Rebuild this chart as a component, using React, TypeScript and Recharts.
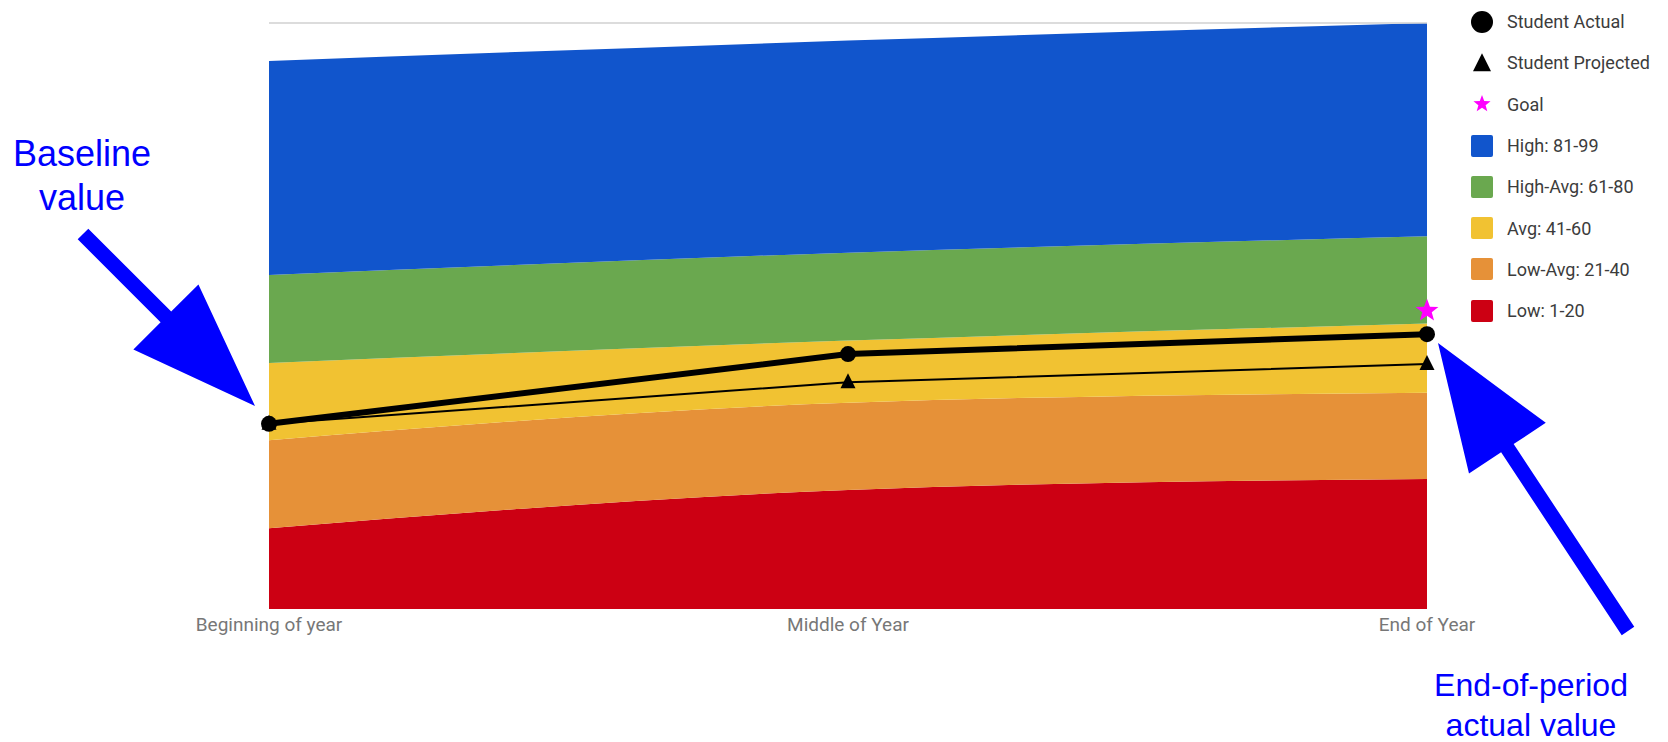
import React from "react";
import {
  ComposedChart,
  Area,
  Line,
  XAxis,
  YAxis,
  ReferenceLine,
  Legend,
} from "recharts";

// periods on the x axis
const periods = ["Beginning of year", "Middle of Year", "End of Year"];

// percentile band thicknesses (stacked, bottom to top)
const low = [13.8, 20.3, 22.2];
const lowAvg = [15.0, 14.9, 14.7];
const avg = [13.2, 10.6, 11.8];
const highAvg = [15.0, 15.0, 14.9];
const high = [36.5, 36.2, 36.4];

// student scores
const studentActual = [31.6, 43.5, 46.9];
const studentProjected = [31.6, 38.7, 41.8];
const goal = [null, null, 50.9];

// bands in legend order (top first)
const bands = [
  { key: "high", name: "High: 81-99", color: "#1155cc", values: high },
  { key: "highAvg", name: "High-Avg: 61-80", color: "#6aa84f", values: highAvg },
  { key: "avg", name: "Avg: 41-60", color: "#f1c232", values: avg },
  { key: "lowAvg", name: "Low-Avg: 21-40", color: "#e69138", values: lowAvg },
  { key: "low", name: "Low: 1-20", color: "#cc0013", values: low },
];

const data = periods.map((period, i) => {
  const row: any = {
    period,
    actual: studentActual[i],
    projected: studentProjected[i],
    goal: goal[i],
  };
  bands.forEach((b) => (row[b.key] = b.values[i]));
  return row;
});

const W = 1668;
const H = 742;
const annoFont = "'Liberation Sans', Arial, sans-serif";
const uiFont = "Roboto, 'Noto Sans', sans-serif";

const starPoints = (cx: number, cy: number, outer: number, inner: number) => {
  const pts: string[] = [];
  for (let i = 0; i < 10; i++) {
    const r = i % 2 === 0 ? outer : inner;
    const a = -Math.PI / 2 + (i * Math.PI) / 5;
    pts.push(`${cx + r * Math.cos(a)},${cy + r * Math.sin(a)}`);
  }
  return pts.join(" ");
};

const triPoints = (cx: number, cy: number, s: number) =>
  `${cx},${cy - s * 0.6} ${cx + s / 2},${cy + s * 0.4} ${cx - s / 2},${cy + s * 0.4}`;

// block arrow polygon from tail to tip
const arrowPoints = (tx: number, ty: number, hx: number, hy: number) => {
  const shaft = 15;
  const headW = 92;
  const headL = 126;
  const dx = hx - tx;
  const dy = hy - ty;
  const len = Math.sqrt(dx * dx + dy * dy);
  const ux = dx / len;
  const uy = dy / len;
  const px = -uy;
  const py = ux;
  const bx = hx - ux * headL;
  const by = hy - uy * headL;
  const p = [
    [tx + px * shaft / 2, ty + py * shaft / 2],
    [bx + px * shaft / 2, by + py * shaft / 2],
    [bx + px * headW / 2, by + py * headW / 2],
    [hx, hy],
    [bx - px * headW / 2, by - py * headW / 2],
    [bx - px * shaft / 2, by - py * shaft / 2],
    [tx - px * shaft / 2, ty - py * shaft / 2],
  ];
  return p.map((q) => q.join(",")).join(" ");
};

const ActualDot = (props: any) => {
  const { cx, cy, index } = props;
  if (cx == null || cy == null) return <g key={`a-${index}`} />;
  return <circle key={`a-${index}`} cx={cx} cy={cy} r={8} fill="#000" />;
};

const ProjectedDot = (props: any) => {
  const { cx, cy, index } = props;
  if (cx == null || cy == null) return <g key={`p-${index}`} />;
  return <polygon key={`p-${index}`} points={triPoints(cx, cy, 15)} fill="#000" />;
};

const GoalDot = (props: any) => {
  const { cx, cy, index, value } = props;
  if (cx == null || cy == null || value == null) return <g key={`g-${index}`} />;
  return <polygon key={`g-${index}`} points={starPoints(cx, cy, 12, 5)} fill="#ff00ff" />;
};

const legendItems = [
  { name: "Student Actual", marker: "circle", color: "#000" },
  { name: "Student Projected", marker: "triangle", color: "#000" },
  { name: "Goal", marker: "star", color: "#ff00ff" },
  ...bands.map((b) => ({ name: b.name, marker: "square", color: b.color })),
];

const LegendContent = () => (
  <div style={{ fontFamily: uiFont, fontSize: 18, color: "#3c3c3c", width: 200 }}>
    {legendItems.map((it) => (
      <div
        key={it.name}
        style={{ display: "flex", alignItems: "center", height: 41.3, whiteSpace: "nowrap" }}
      >
        <svg width={24} height={24} style={{ marginRight: 13, flexShrink: 0, display: "block" }}>
          {it.marker === "circle" && <circle cx={12} cy={12} r={11} fill={it.color} />}
          {it.marker === "triangle" && (
            <polygon points={triPoints(12, 13, 18)} fill={it.color} />
          )}
          {it.marker === "star" && (
            <polygon points={starPoints(12, 12, 9, 3.8)} fill={it.color} />
          )}
          {it.marker === "square" && (
            <rect x={1} y={1} width={22} height={22} rx={2} fill={it.color} />
          )}
        </svg>
        <span>{it.name}</span>
      </div>
    ))}
  </div>
);

export default function App() {
  return (
    <div style={{ position: "absolute", left: 0, top: 0, width: W, height: H, background: "#fff" }}>
      <ComposedChart
        width={W}
        height={H}
        data={data}
        margin={{ top: 23, right: 241, bottom: 103, left: 269 }}
      >
        <XAxis
          dataKey="period"
          scale="point"
          padding={{ left: 0, right: 0 }}
          axisLine={false}
          tickLine={false}
          interval={0}
          height={30}
          tickMargin={3}
          tick={{ fill: "#777", fontSize: 19, fontFamily: uiFont }}
        />
        <YAxis hide domain={[0, 100]} />
        {[...bands].reverse().map((b) => (
          <Area
            key={b.key}
            dataKey={b.key}
            name={b.name}
            stackId="bands"
            type="monotone"
            stroke="none"
            fill={b.color}
            fillOpacity={1}
            isAnimationActive={false}
          />
        ))}
        <ReferenceLine y={100} stroke="#d0d0d0" strokeWidth={1.5} />
        <Line
          dataKey="projected"
          name="Student Projected"
          type="linear"
          stroke="#000"
          strokeWidth={2}
          dot={ProjectedDot}
          activeDot={false}
          isAnimationActive={false}
        />
        <Line
          dataKey="actual"
          name="Student Actual"
          type="linear"
          stroke="#000"
          strokeWidth={6}
          dot={ActualDot}
          activeDot={false}
          isAnimationActive={false}
        />
        <Line
          dataKey="goal"
          name="Goal"
          stroke="none"
          dot={GoalDot}
          activeDot={false}
          isAnimationActive={false}
        />
        <Legend
          content={LegendContent}
          wrapperStyle={{ position: "absolute", left: 1470, top: 1, width: 0, height: 0, overflow: "visible" }}
        />
      </ComposedChart>
      <svg
        width={W}
        height={H}
        style={{ position: "absolute", left: 0, top: 0, pointerEvents: "none" }}
      >
        <polygon points={arrowPoints(83, 234, 255, 406)} fill="#0000ff" />
        <polygon points={arrowPoints(1628, 631, 1438, 343)} fill="#0000ff" />
        <g fontFamily={annoFont} fontSize={36} fill="#0000ff" textAnchor="middle">
          <text x={82} y={166}>Baseline</text>
          <text x={82} y={210}>value</text>
        </g>
        <g fontFamily={annoFont} fontSize={32} fill="#0000ff" textAnchor="middle">
          <text x={1531} y={696}>End-of-period</text>
          <text x={1531} y={736}>actual value</text>
        </g>
      </svg>
    </div>
  );
}
